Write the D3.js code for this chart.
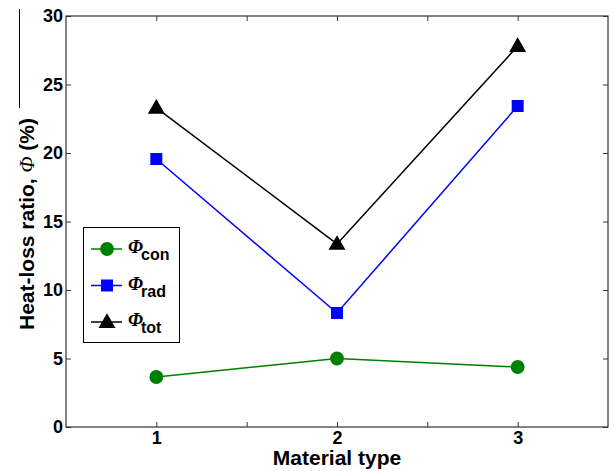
<!DOCTYPE html>
<html lang="en">
<head>
<meta charset="utf-8">
<title>Heat-loss ratio by material type</title>
<script src="https://cdn.jsdelivr.net/npm/d3@7/dist/d3.min.js"></script>
<style>
  body { margin: 0; background: #fff; }
  .tick text { font-family: "Liberation Sans", Arial, sans-serif; font-size: 18px; font-weight: bold; fill: #000; }
  .label { font-family: "Liberation Sans", Arial, sans-serif; font-size: 21px; font-weight: bold; fill: #000; }
  .leg { font-family: "Liberation Sans", Arial, sans-serif; font-size: 16px; font-weight: bold; fill: #000; }
  .phi { font-family: "Liberation Serif", serif; font-style: italic; font-weight: normal; }
</style>
</head>
<body>
<script>
var materials = [1, 2, 3];
var phiCon = [3.65, 5.0, 4.38];
var phiRad = [19.56, 8.32, 23.43];
var phiTot = [23.3, 13.36, 27.8];
var yTicks = [0, 5, 10, 15, 20, 25, 30];
var xTicks = [1, 1.5, 2, 2.5, 3];
var xTickLabels = ["1", "", "2", "", "3"];

var w = 614, h = 471;
var m = {left: 66, right: 6, top: 16, bottom: 44};

var svg = d3.select("body").append("svg").attr("width", w).attr("height", h);

var x = d3.scaleLinear().domain([0.5, 3.5]).range([m.left, w - m.right]);
var y = d3.scaleLinear().domain([0, 30]).range([h - m.bottom, m.top]);

// stray line at top left of the original picture
svg.append("line").attr("x1", 19.5).attr("x2", 19.5).attr("y1", 9).attr("y2", 108)
   .attr("stroke", "#000").attr("stroke-width", 1);

// axes with inward ticks on all four sides
var tk = 5;
svg.append("g").attr("transform", "translate(0," + y(0) + ")")
   .call(d3.axisBottom(x).tickValues(xTicks).tickFormat(function(d, i) { return xTickLabels[i]; })
         .tickSizeInner(-tk).tickSizeOuter(0).tickPadding(4));
svg.append("g").attr("transform", "translate(0," + y(30) + ")")
   .call(d3.axisTop(x).tickValues(xTicks).tickFormat("").tickSizeInner(-tk).tickSizeOuter(0));
svg.append("g").attr("transform", "translate(" + x(0.5) + ",0)")
   .call(d3.axisLeft(y).tickValues(yTicks).tickSizeInner(-tk).tickSizeOuter(0).tickPadding(3));
svg.append("g").attr("transform", "translate(" + x(3.5) + ",0)")
   .call(d3.axisRight(y).tickValues(yTicks).tickFormat("").tickSizeInner(-tk).tickSizeOuter(0));
svg.selectAll(".domain").remove();
svg.selectAll(".tick line").attr("stroke", "#333").attr("stroke-width", 1);
svg.selectAll(".tick text").attr("font-family", null).attr("font-size", null);

svg.append("rect").attr("x", x(0.5)).attr("y", y(30))
   .attr("width", x(3.5) - x(0.5)).attr("height", y(0) - y(30))
   .attr("fill", "none").attr("stroke", "#333").attr("stroke-width", 1.2);

// series
var series = [
  {vals: phiCon, color: "#008000", marker: "circle", sub: "con"},
  {vals: phiRad, color: "#0000ff", marker: "square", sub: "rad"},
  {vals: phiTot, color: "#000000", marker: "triangle", sub: "tot"}
];

var line = d3.line().x(function(d, i) { return x(materials[i]); }).y(function(d) { return y(d); });

function marker(sel, s) {
  if (s.marker == "circle") return sel.append("path").attr("d", d3.symbol(d3.symbolCircle, 150)());
  if (s.marker == "square") return sel.append("path").attr("d", d3.symbol(d3.symbolSquare, 144)());
  return sel.append("path").attr("d", d3.symbol(d3.symbolTriangle, 125)()).attr("transform", "translate(0,1)");
}

series.forEach(function(s) {
  svg.append("path").attr("d", line(s.vals)).attr("fill", "none")
     .attr("stroke", s.color).attr("stroke-width", 1.5);
  s.vals.forEach(function(v, i) {
    var g = svg.append("g").attr("transform", "translate(" + x(materials[i]) + "," + y(v) + ")");
    marker(g, s).attr("fill", s.color);
  });
});

// legend
var lx = 83, ly = 227, lw = 96, lh = 115;
svg.append("rect").attr("x", lx + 0.5).attr("y", ly + 0.5).attr("width", lw).attr("height", lh)
   .attr("fill", "#fff").attr("stroke", "#000").attr("stroke-width", 1);
series.forEach(function(s, i) {
  var yy = ly + 22 + i * 36.5;
  svg.append("line").attr("x1", lx + 8).attr("x2", lx + 39).attr("y1", yy).attr("y2", yy)
     .attr("stroke", s.color).attr("stroke-width", 1.5);
  var g = svg.append("g").attr("transform", "translate(" + (lx + 24) + "," + yy + ")");
  marker(g, s).attr("fill", s.color);
  svg.append("text").attr("class", "phi").attr("x", lx + 45).attr("y", yy + 4)
     .style("font-size", "19px").style("font-weight", "bold").text("Φ");
  svg.append("text").attr("class", "leg").attr("x", lx + 58).attr("y", yy + 11).text(s.sub);
});

// axis labels
svg.append("text").attr("class", "label").attr("x", x(2)).attr("y", 465)
   .attr("text-anchor", "middle").text("Material type");

var yl = svg.append("text").attr("class", "label")
   .attr("transform", "translate(34," + 224 + ") rotate(-90)")
   .attr("text-anchor", "middle");
yl.append("tspan").text("Heat-loss ratio, ");
yl.append("tspan").attr("class", "phi").text("Φ");
yl.append("tspan").text(" (%)");
</script>
</body>
</html>
